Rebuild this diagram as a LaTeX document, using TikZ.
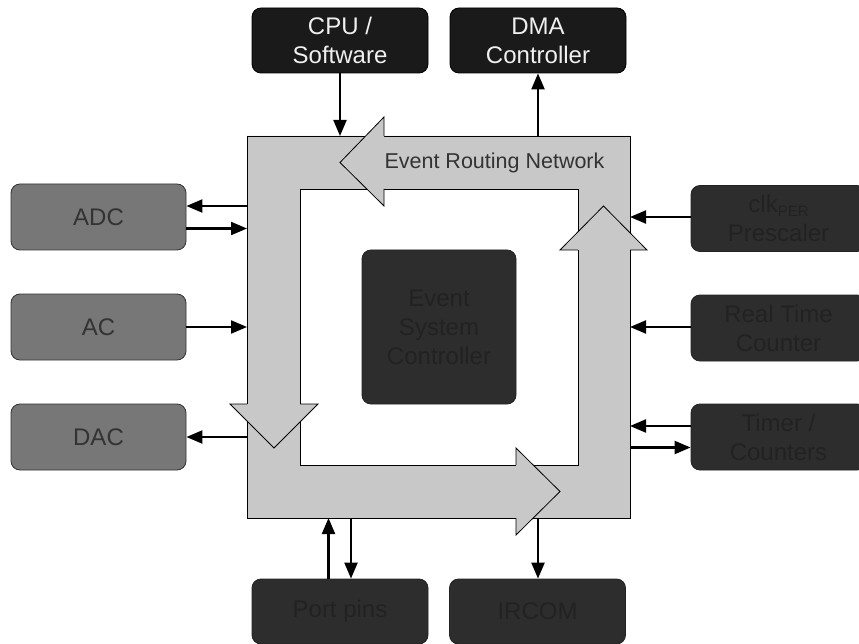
\documentclass[tikz,border=0pt]{standalone}
\usepackage{fontspec}
\setmainfont{Liberation Sans}
\usetikzlibrary{arrows.meta}
\definecolor{topfill}{HTML}{1A1A1A}
\definecolor{midfill}{HTML}{777777}
\definecolor{darkfill}{HTML}{2D2D2D}
\definecolor{darktext}{HTML}{222222}
\definecolor{midtext}{HTML}{333333}
\definecolor{framegray}{HTML}{C8C8C8}
\tikzset{
  box/.style={rectangle, rounded corners=9pt, inner sep=0pt, align=center,
    minimum width=176pt, minimum height=65pt, line width=0.8pt,
    font=\fontsize{24}{29}\selectfont},
  topbox/.style={box, fill=topfill, draw=black, text=white!94!black},
  sidebox/.style={box, fill=midfill, draw=midtext, text=midtext},
  darkbox/.style={box, fill=darkfill, draw=darktext, text=darktext},
  link/.style={line width=2.2pt, -{Triangle[length=16pt,width=13pt]}},
  frameline/.style={draw=black, line width=0.8pt, line join=miter},
}
\begin{document}
\begin{tikzpicture}[x=1pt,y=-1pt]
\useasboundingbox (0,0) rectangle (859,644);
% routing network frame
\path[frameline, fill=framegray, even odd rule]
  (247,136) rectangle (630,518) (300,189) rectangle (578,465);
\coordinate (netc) at (438.5,327);
% arrow heads of the ring
\fill[framegray] (384,117) -- (340,162.5) -- (384,206) -- cycle;
\draw[frameline] (384,136) -- (384,117) -- (340,162.5) -- (384,206) -- (384,189);
\fill[framegray] (560,250) -- (603.5,206) -- (647,250) -- cycle;
\draw[frameline] (578,250) -- (560,250) -- (603.5,206) -- (647,250) -- (630,250);
\fill[framegray] (516,448) -- (560,491.5) -- (516,535) -- cycle;
\draw[frameline] (516,465) -- (516,448) -- (560,491.5) -- (516,535) -- (516,518);
\fill[framegray] (230,404) -- (274,448) -- (318,404) -- cycle;
\draw[frameline] (247,404) -- (230,404) -- (274,448) -- (318,404) -- (300,404);
\node[text=midtext, font=\fontsize{21.5}{26}\selectfont] (ern) at (494.5,162.5) {Event Routing Network};

% boxes
\node[topbox] (cpu) at (340,40.5) {CPU /\\Software};
\node[topbox] (dma) at (538,40.5) {DMA\\Controller};
\node[sidebox, minimum width=175pt, minimum height=66pt] (adc) at (98.5,217) {ADC};
\node[sidebox, minimum width=175pt, minimum height=66pt] (ac) at (98.5,327) {AC};
\node[sidebox, minimum width=175pt, minimum height=66pt] (dac) at (98.5,437) {DAC};
\node[darkbox, minimum width=175pt, minimum height=66pt] (clk) at (778.5,218.5)
  {clk\raisebox{-4pt}{\fontsize{15}{15}\selectfont PER}\\Prescaler};
\node[darkbox, minimum width=175pt, minimum height=66pt] (rtc) at (778.5,328) {Real Time\\Counter};
\node[darkbox, minimum width=175pt, minimum height=66pt] (tc) at (778.5,437) {Timer /\\Counters};
\node[darkbox] (pins) at (340,611.5) {Port pins};
\node[darkbox] (ircom) at (537.5,611.5) {IRCOM};
\node[darkbox, minimum width=154pt, minimum height=154pt] (esc) at (439,327) {Event\\System\\Controller};

% connection points on the frame
\coordinate (nCPU) at (340,136);
\coordinate (nDMA) at (538,136);
\coordinate (nADC1) at (247,206);
\coordinate (nADC2) at (247,228.5);
\coordinate (nAC) at (247,327);
\coordinate (nDAC) at (247,437);
\coordinate (nCLK) at (630,217);
\coordinate (nRTC) at (630,327);
\coordinate (nTC1) at (630,426);
\coordinate (nTC2) at (630,447.5);
\coordinate (nPIN1) at (328.5,518);
\coordinate (nPIN2) at (351,518);
\coordinate (nIR) at (538,518);

% connectors
\draw[link] (cpu.south) -- (nCPU);
\draw[link] (nDMA) -- (dma.south -| nDMA);
\draw[link] (nADC1) -- (adc.east |- nADC1);
\draw[link] (adc.east |- nADC2) -- (nADC2);
\draw[link] (ac.east |- nAC) -- (nAC);
\draw[link] (nDAC) -- (dac.east |- nDAC);
\draw[link] (clk.west |- nCLK) -- (nCLK);
\draw[link] (rtc.west |- nRTC) -- (nRTC);
\draw[link] (tc.west |- nTC1) -- (nTC1);
\draw[link] (nTC2) -- (tc.west |- nTC2);
\draw[link] (pins.north -| nPIN1) -- (nPIN1);
\draw[link] (nPIN2) -- (pins.north -| nPIN2);
\draw[link] (nIR) -- (ircom.north -| nIR);
\end{tikzpicture}
\end{document}
